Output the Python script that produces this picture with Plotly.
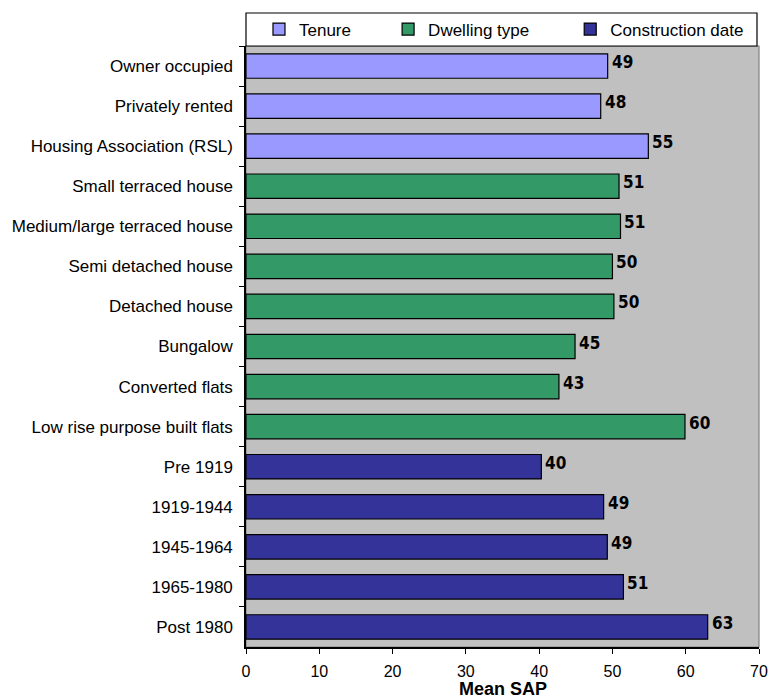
import plotly.graph_objects as go

# ---- data ----
tenure_cats = ["Owner occupied", "Privately rented", "Housing Association (RSL)"]
tenure_vals = [49.35, 48.4, 54.9]
tenure_labels = ["49", "48", "55"]

dwelling_cats = ["Small terraced house", "Medium/large terraced house", "Semi detached house",
                 "Detached house", "Bungalow", "Converted flats", "Low rise purpose built flats"]
dwelling_vals = [50.9, 51.1, 50.0, 50.2, 44.9, 42.7, 59.9]
dwelling_labels = ["51", "51", "50", "50", "45", "43", "60"]

construction_cats = ["Pre 1919", "1919-1944", "1945-1964", "1965-1980", "Post 1980"]
construction_vals = [40.3, 48.8, 49.3, 51.5, 63.0]
construction_labels = ["40", "49", "49", "51", "63"]

x_ticks = [0, 10, 20, 30, 40, 50, 60, 70]
x_title = "Mean SAP"

series = [
    ("Tenure", tenure_cats, tenure_vals, tenure_labels, "#9999FF", "legend", 0.0253),
    ("Dwelling type", dwelling_cats, dwelling_vals, dwelling_labels, "#339966", "legend2", 0.277),
    ("Construction date", construction_cats, construction_vals, construction_labels, "#333399", "legend3", 0.632),
]

all_cats = tenure_cats + dwelling_cats + construction_cats

W, H = 769, 699
ML, MR, MT, MB = 246, 10, 46, 52
PW = W - ML - MR
PH = H - MT - MB

fig = go.Figure()
annotations = []
legends = {}
for name, cats, vals, labels, color, leg, lx in series:
    fig.add_trace(go.Bar(
        name=name, y=cats, x=vals, orientation="h",
        marker=dict(color=color, line=dict(color="black", width=1.2)),
        legend=leg, hoverinfo="x+y",
    ))
    for c, v, t in zip(cats, vals, labels):
        annotations.append(dict(
            x=v, y=c, xref="x", yref="y", text=t, showarrow=False,
            xanchor="left", yanchor="middle", xshift=2, yshift=4,
            font=dict(family="Liberation Sans Narrow, DejaVu Sans Condensed, Liberation Sans", size=17,
                      color="black", weight="bold"),
        ))
    legends[leg] = dict(
        x=lx, y=1 + (MT - 29.5) / PH, xref="paper", yref="paper",
        xanchor="left", yanchor="middle", orientation="h",
        bgcolor="rgba(0,0,0,0)", borderwidth=0,
        font=dict(family="Liberation Sans, Arial", size=17, color="black"),
    )

# x-axis title placed just below the tick labels
annotations.append(dict(
    x=0.5, y=-(689 - (H - MB)) / PH, xref="paper", yref="paper",
    text="<b>" + x_title + "</b>", showarrow=False,
    xanchor="center", yanchor="middle", borderpad=0,
    font=dict(family="Liberation Sans, Arial", size=18, color="black"),
))

fig.update_layout(
    width=W, height=H,
    margin=dict(l=ML, r=MR, t=MT, b=MB, autoexpand=False),
    paper_bgcolor="white", plot_bgcolor="#C0C0C0",
    barmode="overlay", bargap=0.39,
    showlegend=True,
    annotations=annotations,
    font=dict(family="Liberation Sans, Arial", size=17, color="black"),
    **legends,
    shapes=[
        dict(type="rect", xref="paper", yref="paper", x0=0, x1=1, y0=0, y1=1,
             line=dict(color="#808080", width=1.2), fillcolor="rgba(0,0,0,0)", layer="below"),
        dict(type="rect", xref="paper", yref="paper", x0=0, x1=(757 - ML) / PW,
             y0=1, y1=1 + (MT - 13) / PH,
             line=dict(color="black", width=1.2), fillcolor="white", layer="above"),
    ],
)

fig.update_xaxes(
    range=[0, 70], tickvals=x_ticks, ticks="outside", ticklen=5, tickcolor="black",
    showgrid=False, zeroline=False, showline=True, linecolor="black", linewidth=1.5,
    tickfont=dict(size=16), ticklabelstandoff=4,
    fixedrange=True,
)
fig.update_yaxes(
    categoryorder="array", categoryarray=all_cats, autorange="reversed",
    tickson="boundaries", ticks="outside", ticklen=5, tickcolor="black",
    showgrid=False, zeroline=False, showline=True, linecolor="black", linewidth=1.5,
    tickfont=dict(size=17), ticklabelstandoff=8,
    fixedrange=True,
)

fig.write_html("out.html", config={"displayModeBar": False},
               post_script="document.body.style.margin='0';document.body.style.padding='0';")
